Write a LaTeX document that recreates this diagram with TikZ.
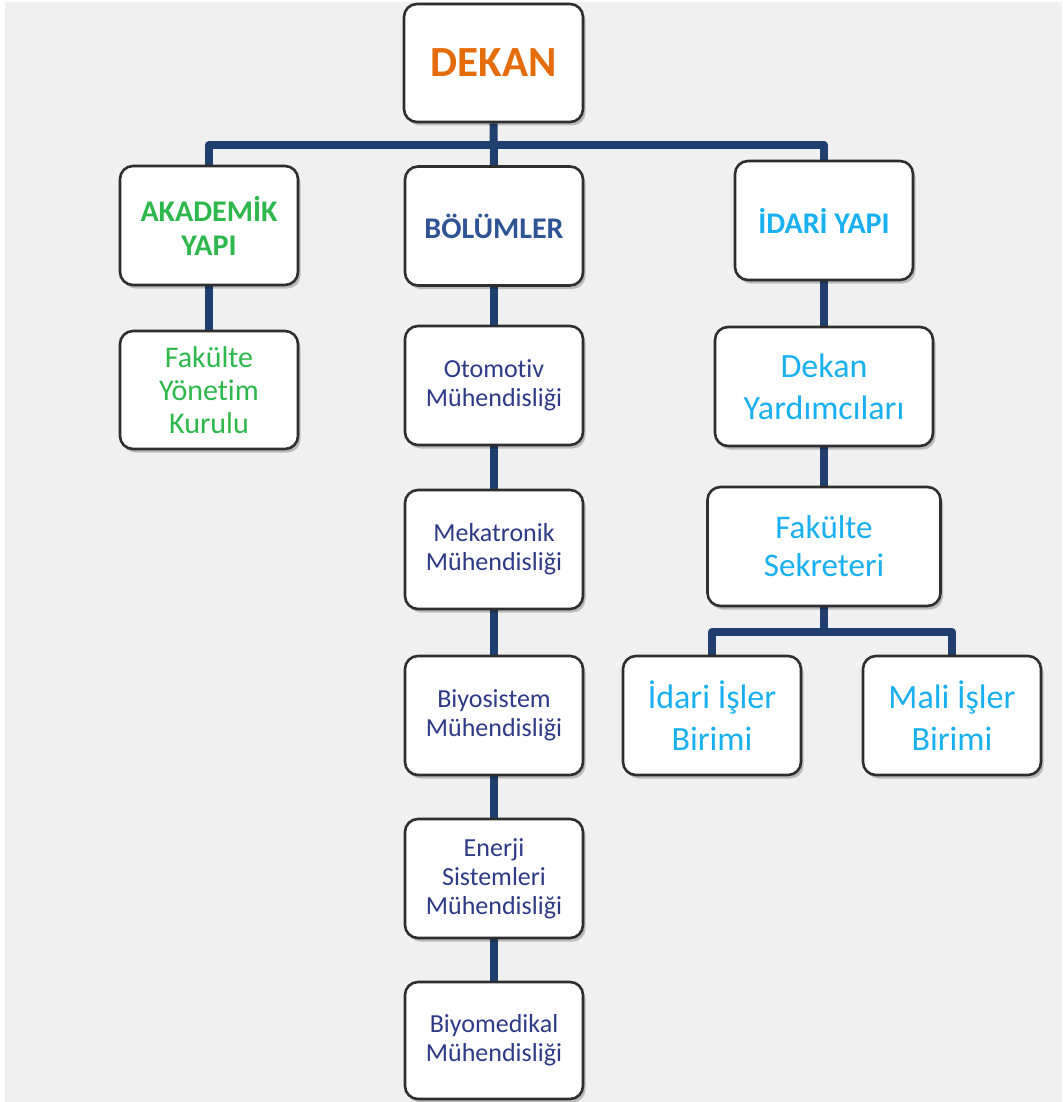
\documentclass[tikz,border=0pt]{standalone}
\usepackage{fontspec}
\setmainfont{Carlito}[Ligatures={NoCommon}]
\usetikzlibrary{shadows,positioning}
\definecolor{bgray}{HTML}{F0F0F0}
\definecolor{conn}{HTML}{1F3F6E}
\definecolor{cOrange}{HTML}{E46C0A}
\definecolor{cGreen}{HTML}{2DB84B}
\definecolor{cDark}{HTML}{2F5496}
\definecolor{cLight}{HTML}{18B0F0}
\definecolor{cNavy}{HTML}{2E3A87}
\definecolor{cBorder}{HTML}{2E2E2E}
\pgfdeclarelayer{bglayer}
\pgfdeclarelayer{linelayer}
\pgfsetlayers{bglayer,linelayer,main}
\tikzset{
  orgbox/.style={draw=cBorder, line width=2.6pt, fill=white, rounded corners=13pt,
    align=center, inner sep=0pt,
    drop shadow={shadow xshift=2.5pt, shadow yshift=-3.5pt, opacity=0.22, fill=black}},
  stdbox/.style={orgbox, minimum width=178pt, minimum height=118pt},
  hdrtext/.style={font=\fontsize{30}{34}\selectfont\bfseries},
  depttext/.style={font=\fontsize{26}{29}\selectfont, text=cNavy},
  bigtext/.style={font=\fontsize{34}{42}\selectfont, text=cLight},
  link/.style={draw=conn, line width=8pt, line join=round}
}
\begin{document}
\begin{tikzpicture}[x=1pt,y=-1pt]
\useasboundingbox (0,0) rectangle (1062,1102);
\begin{pgfonlayer}{bglayer}
  \fill[white] (0,0) rectangle (1062,1102);
  \fill[bgray] (5,2) rectangle (1062,1102);
\end{pgfonlayer}

\node[stdbox, minimum width=179pt, font=\fontsize{43}{48}\selectfont\bfseries, text=cOrange] (dekan) at (493.5,63) {DEKAN};

\node[stdbox, minimum height=119pt, hdrtext, text=cGreen] (akad) at (209,225.5) {AKADEMİK\\YAPI};
\node[stdbox, minimum height=119pt, hdrtext, text=cDark] (bol) at (494,226) {BÖLÜMLER};
\node[stdbox, minimum height=119pt, hdrtext, text=cLight] (idari) at (824,220.5) {İDARİ YAPI};

\node[stdbox, font=\fontsize{30}{33}\selectfont, text=cGreen] (fyk) at (209,390) {Fakülte\\Yönetim\\Kurulu};

\node[stdbox, minimum height=119pt, depttext] (oto) at (494,385.5) {Otomotiv\\Mühendisliği};
\node[stdbox, minimum height=119pt, depttext] (mek) at (494,549.5) {Mekatronik\\Mühendisliği};
\node[stdbox, minimum height=119pt, depttext] (biyos) at (494,715.5) {Biyosistem\\Mühendisliği};
\node[stdbox, minimum height=119pt, depttext] (ener) at (494,878.5) {Enerji\\Sistemleri\\Mühendisliği};
\node[stdbox, minimum height=117pt, depttext] (biyom) at (494,1040.5) {Biyomedikal\\Mühendisliği};

\node[orgbox, minimum width=218pt, minimum height=119pt, bigtext] (dy) at (824,386.5) {Dekan\\Yardımcıları};
\node[orgbox, minimum width=233pt, minimum height=119pt, bigtext, font=\fontsize{33}{38}\selectfont] (fs) at (824,546.5) {Fakülte\\Sekreteri};

\node[stdbox, minimum height=119pt, bigtext] (iib) at (712,715.5) {İdari İşler\\Birimi};
\node[stdbox, minimum height=119pt, bigtext] (mib) at (952,715.5) {Mali İşler\\Birimi};

\coordinate (j1) at (493.5,145);
\coordinate (j2) at (824,632);

\begin{pgfonlayer}{linelayer}
  \draw[link] (dekan.south) -- (bol.north);
  \draw[link] (akad.north) |- (j1) -| (idari.north);
  \draw[link] (akad.south) -- (fyk.north);
  \draw[link] (bol.south) -- (oto.north);
  \draw[link] (oto.south) -- (mek.north);
  \draw[link] (mek.south) -- (biyos.north);
  \draw[link] (biyos.south) -- (ener.north);
  \draw[link] (ener.south) -- (biyom.north);
  \draw[link] (idari.south) -- (dy.north);
  \draw[link] (dy.south) -- (fs.north);
  \draw[link] (fs.south) -- (j2);
  \draw[link] (iib.north) |- (j2) -| (mib.north);
\end{pgfonlayer}
\end{tikzpicture}
\end{document}
